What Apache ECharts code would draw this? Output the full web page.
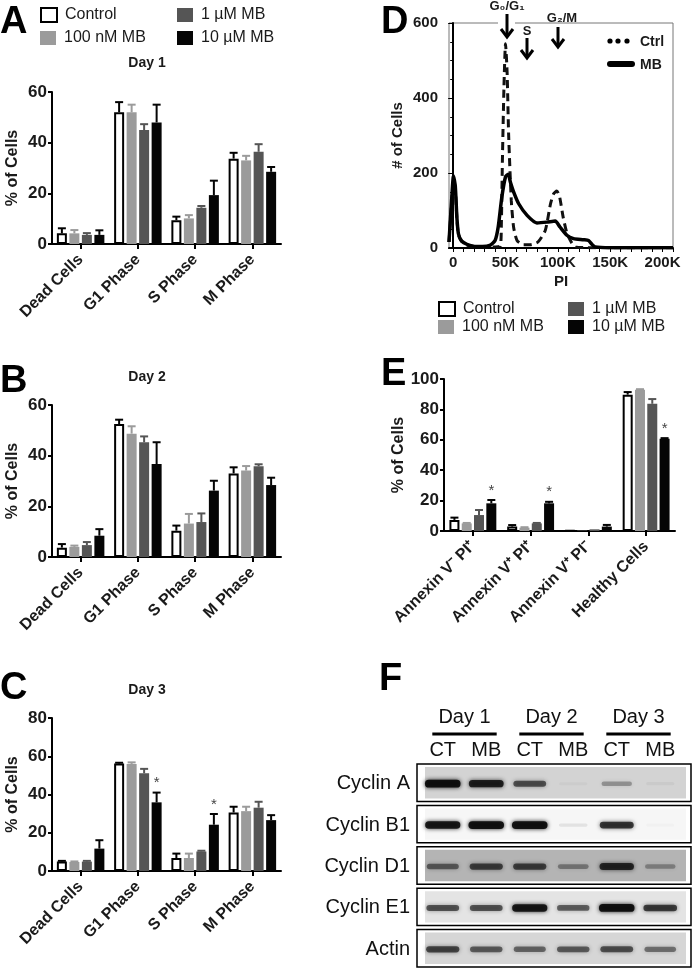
<!DOCTYPE html>
<html>
<head>
<meta charset="utf-8">
<script src="https://cdn.jsdelivr.net/npm/echarts@6.0.0/dist/echarts.min.js"></script>
<style>
html, body { margin: 0; padding: 0; background: #fff; }
#main { width: 693px; height: 971px; }
</style>
</head>
<body>
<div id="main"></div>
<script>
// ---- data ----
const phases = ['Dead Cells', 'G1 Phase', 'S Phase', 'M Phase']
const treatments = ['Control', '100 nM MB', '1 µM MB', '10 µM MB']

// rows = treatment, columns = phase
const day1Mean = [
    [4.2, 52.0, 9.4, 33.7],
    [4.2, 52.0, 10.1, 33.0],
    [3.6, 45.0, 14.3, 36.4],
    [3.6, 48.0, 19.3, 28.5]
]
const day1Err = [
    [2.0, 4.0, 1.4, 2.3],
    [1.3, 3.0, 1.3, 1.8],
    [0.7, 2.3, 0.7, 3.0],
    [1.8, 7.0, 5.7, 1.9]
]
const day2Mean = [
    [3.7, 52.5, 10.4, 33.0],
    [4.0, 48.7, 13.2, 34.1],
    [4.7, 45.3, 13.8, 35.8],
    [8.4, 36.7, 26.2, 28.4]
]
const day2Err = [
    [1.4, 1.7, 2.0, 2.4],
    [0.5, 2.9, 3.8, 1.8],
    [1.2, 2.3, 3.4, 0.8],
    [2.6, 8.6, 3.9, 2.9]
]
const day3Mean = [
    [5.0, 56.2, 6.8, 30.6],
    [4.7, 56.0, 6.8, 31.3],
    [4.9, 51.1, 10.2, 33.1],
    [11.7, 35.9, 24.2, 26.6]
]
const day3Err = [
    [0.3, 0.4, 2.3, 3.0],
    [0.3, 0.8, 2.3, 2.3],
    [0.4, 2.3, 0.4, 3.1],
    [4.4, 5.1, 5.6, 2.6]
]
const day3Stars = [[3, 1], [3, 2]]

const annexinCats = ['Annexin V⁻ PI⁺', 'Annexin V⁺ PI⁺', 'Annexin V⁺ PI⁻', 'Healthy Cells']
const annexinMean = [
    [7.3, 2.9, 0.2, 89.7],
    [5.0, 2.2, 0.2, 93.0],
    [10.5, 5.0, 1.1, 83.7],
    [18.2, 18.2, 2.9, 60.7]
]
const annexinErr = [
    [1.5, 1.0, 0, 1.7],
    [0.3, 0.3, 0, 0.3],
    [3.3, 0.3, 0, 3.1],
    [2.2, 1.0, 1.1, 0.4]
]
const annexinStars = [[3, 0], [3, 1], [3, 3]]

// flow cytometry histogram, PI in K
const ctrlPI = [-4, -1.5, 0.3, 2, 3.5, 5, 8, 13, 20, 30, 40, 45, 46, 47, 48.5, 50, 51.5, 53, 55.5, 57.7, 61, 67, 73.7, 81, 88, 93, 96, 99, 101.7, 105, 108.8, 113.6, 116.7, 125, 150, 210]
const ctrlCount = [16, 120, 180, 160, 80, 36, 18, 8, 4, 3, 3, 5, 60, 230, 430, 545, 470, 300, 127, 56, 20, 9, 9, 16, 47, 118, 145, 152, 136, 83, 38, 12, 3, 1, 1, 1]
const mbPI = [-4, -1.5, 0.3, 2, 3.5, 5, 8, 13, 19, 28, 35, 40, 43, 46.5, 50, 52.5, 54.6, 57.8, 62.6, 70.6, 80, 89.6, 97.5, 102, 108.6, 115, 124.5, 129.3, 132.5, 135.7, 150, 180, 210]
const mbCount = [16, 127, 192, 165, 83, 38, 19, 10, 5, 4, 7, 20, 56, 136, 190, 197, 176, 149, 118, 87, 67, 69, 72, 56, 34, 25, 22, 20, 10, 3, 1, 1, 1]
const piTicks = [0, 10, 20, 30, 40, 50, 60, 70, 80, 90, 100, 110, 120, 130, 140, 150, 160, 170, 180, 190, 200, 210]
const piLabels = [0, 50, 100, 150, 200]

// western blot band strength per lane (0..1)
const blotDays = ['Day 1', 'Day 2', 'Day 3']
const blotLanes = ['CT', 'MB', 'CT', 'MB', 'CT', 'MB']
const blotProteins = ['Cyclin A', 'Cyclin B1', 'Cyclin D1', 'Cyclin E1', 'Actin']
const cyclinA = [0.95, 0.85, 0.6, 0.03, 0.3, 0.04]
const cyclinB1 = [0.9, 0.95, 0.95, 0.08, 0.75, 0.02]
const cyclinD1 = [0.5, 0.65, 0.65, 0.35, 0.8, 0.3]
const cyclinE1 = [0.6, 0.6, 0.9, 0.55, 0.95, 0.7]
const actin = [0.65, 0.55, 0.5, 0.55, 0.6, 0.45]

// ---- styles ----
const FONT = '"Liberation Sans", Arial, Helvetica, sans-serif'
const INK = '#1a1a1a'
const barColors = ['#ffffff', '#9b9b9b', '#555555', '#050505']
const errColors = ['#000000', '#9b9b9b', '#555555', '#050505']
const blotShade = ['#d3d3d3', '#f6f6f6', '#b4b4b4', '#e4e4e4', '#d6d6d6']

function errorRender(pitch) {
    return function (params, api) {
        const cat = api.value(0)
        const mean = api.value(1)
        const err = api.value(2)
        const gi = api.value(3)
        const star = api.value(4)
        const p0 = api.coord([cat, mean])
        const p1 = api.coord([cat, mean + err])
        const x = p0[0] + (gi - 1.5) * pitch
        const children = []
        if (err > 0) {
            children.push({ type: 'line', shape: { x1: x, y1: p0[1], x2: x, y2: p1[1] }, style: { stroke: errColors[gi], lineWidth: 2 } })
            children.push({ type: 'line', shape: { x1: x - 4, y1: p1[1], x2: x + 4, y2: p1[1] }, style: { stroke: errColors[gi], lineWidth: 2 } })
        }
        if (star) {
            children.push({ type: 'text', x: x, y: p1[1] - 2, style: { text: '*', fill: '#444', font: '15px ' + FONT, align: 'center', verticalAlign: 'bottom' } })
        }
        return { type: 'group', children }
    }
}

function barSeries(idx, means, errs, stars, barW, pitch) {
    const list = treatments.map((name, gi) => ({
        type: 'bar',
        name,
        xAxisIndex: idx,
        yAxisIndex: idx,
        data: means[gi],
        barWidth: barW,
        barGap: ((pitch - barW) / barW * 100) + '%',
        silent: true,
        itemStyle: gi === 0 ? { color: '#fff', borderColor: '#000', borderWidth: 2 } : { color: barColors[gi] }
    }))
    const errData = []
    means.forEach((row, gi) => {
        row.forEach((v, ci) => {
            const star = stars.some(s => s[0] === gi && s[1] === ci) ? 1 : 0
            errData.push([ci, v, errs[gi][ci], gi, star])
        })
    })
    list.push({
        type: 'custom',
        xAxisIndex: idx,
        yAxisIndex: idx,
        z: 5,
        silent: true,
        encode: { x: 0, y: 1 },
        renderItem: errorRender(pitch),
        data: errData
    })
    return list
}

function catAxis(idx, data) {
    return {
        type: 'category', gridIndex: idx, data,
        axisLine: { show: true, lineStyle: { color: '#000', width: 2 } },
        axisTick: { show: true, alignWithLabel: true, length: 5, lineStyle: { color: '#000', width: 2 } },
        axisLabel: { rotate: 45, interval: 0, fontSize: 16, fontWeight: 'bold', color: INK, margin: 13, fontFamily: FONT },
        splitLine: { show: false }
    }
}

function pctAxis(idx, max, gap) {
    return {
        type: 'value', gridIndex: idx, min: 0, max, interval: 20,
        name: '% of Cells', nameLocation: 'middle', nameGap: gap,
        nameTextStyle: { fontSize: 16, fontWeight: 'bold', color: INK, fontFamily: FONT },
        axisLine: { show: true, lineStyle: { color: '#000', width: 2 } },
        axisTick: { show: true, length: 4, lineStyle: { color: '#000', width: 2 } },
        axisLabel: { fontSize: 17, fontWeight: 'bold', color: INK, margin: 5, fontFamily: FONT },
        splitLine: { show: false }
    }
}

function legendAt(name, left, top) {
    const gi = treatments.indexOf(name)
    return {
        data: [name], left, top, orient: 'horizontal', padding: 0,
        itemWidth: 16, itemHeight: 14, selectedMode: false, icon: 'rect',
        itemStyle: gi === 0 ? { color: '#fff', borderColor: '#000', borderWidth: 2 } : { color: barColors[gi], borderWidth: 0 },
        textStyle: { fontSize: 16, color: INK, fontFamily: FONT, padding: [0, 0, 0, 3] }
    }
}

function arrow(x, y1, y2) {
    return [
        { type: 'line', shape: { x1: x, y1: y1, x2: x, y2: y2 - 1 }, style: { stroke: '#000', lineWidth: 3 } },
        { type: 'polyline', shape: { points: [[x - 6, y2 - 8], [x, y2], [x + 6, y2 - 8]] }, style: { stroke: '#000', lineWidth: 3, fill: null } }
    ]
}

const bandData = []
;[cyclinA, cyclinB1, cyclinD1, cyclinE1, actin].forEach((row, r) => {
    row.forEach((v, l) => bandData.push([l, r, v]))
})

const letterStyle = { fontSize: 38, fontWeight: 'bold', color: '#000', fontFamily: FONT }
const dayStyle = { fontSize: 14, fontWeight: 'bold', color: INK, fontFamily: FONT }

const option = {
    animation: false,
    backgroundColor: '#fff',
    textStyle: { fontFamily: FONT },
    title: [
        { text: 'A', left: 0, top: 4, padding: 0, textStyle: letterStyle },
        { text: 'B', left: 0, top: 363, padding: 0, textStyle: letterStyle },
        { text: 'C', left: 0, top: 670, padding: 0, textStyle: letterStyle },
        { text: 'D', left: 381, top: 4, padding: 0, textStyle: letterStyle },
        { text: 'E', left: 381, top: 356, padding: 0, textStyle: letterStyle },
        { text: 'F', left: 379, top: 661, padding: 0, textStyle: letterStyle },
        { text: 'Day 1', left: 147, top: 56, textAlign: 'center', padding: 0, textStyle: dayStyle },
        { text: 'Day 2', left: 147, top: 370, textAlign: 'center', padding: 0, textStyle: dayStyle },
        { text: 'Day 3', left: 147, top: 683, textAlign: 'center', padding: 0, textStyle: dayStyle }
    ],
    legend: [
        legendAt('Control', 40, 7),
        legendAt('100 nM MB', 40, 30),
        legendAt('1 µM MB', 177, 7),
        legendAt('10 µM MB', 177, 30),
        legendAt('Control', 438, 301),
        legendAt('100 nM MB', 438, 319),
        legendAt('1 µM MB', 568, 301),
        legendAt('10 µM MB', 568, 319)
    ],
    grid: [
        { left: 52, top: 92, width: 229, height: 152, outerBoundsMode: 'none' },
        { left: 52, top: 405, width: 229, height: 152, outerBoundsMode: 'none' },
        { left: 52, top: 718, width: 229, height: 153, outerBoundsMode: 'none' },
        { left: 449, top: 23, width: 224, height: 225, show: true, borderColor: '#777', borderWidth: 1, backgroundColor: 'transparent', outerBoundsMode: 'none' },
        { left: 444, top: 379, width: 231, height: 152, outerBoundsMode: 'none' },
        { left: 421, top: 763, width: 261, height: 207, outerBoundsMode: 'none' }
    ],
    xAxis: [
        catAxis(0, phases),
        catAxis(1, phases),
        catAxis(2, phases),
        {
            type: 'value', gridIndex: 3, min: -4, max: 210,
            name: 'PI', nameLocation: 'middle', nameGap: 26,
            nameTextStyle: { fontSize: 15, fontWeight: 'bold', color: INK, fontFamily: FONT },
            axisLine: { show: true, lineStyle: { color: '#000', width: 2 } },
            axisTick: { show: true, customValues: piTicks, length: 4, lineStyle: { color: '#000', width: 1 } },
            axisLabel: {
                customValues: piLabels, fontSize: 15, fontWeight: 'bold', color: INK, margin: 7, fontFamily: FONT,
                formatter: v => (v === 0 ? '0' : v + 'K')
            },
            splitLine: { show: false }
        },
        catAxis(4, annexinCats),
        {
            type: 'category', gridIndex: 5, position: 'top', data: blotLanes,
            axisLine: { show: false }, axisTick: { show: false },
            axisLabel: { fontSize: 20, color: '#111', margin: 3, fontFamily: FONT }
        },
        {
            type: 'category', gridIndex: 5, position: 'top', offset: 29, data: blotDays,
            axisLine: { show: false }, axisTick: { show: false },
            axisLabel: { fontSize: 20, color: '#111', margin: 7, fontFamily: FONT }
        }
    ],
    yAxis: [
        pctAxis(0, 60, 31),
        pctAxis(1, 60, 31),
        pctAxis(2, 80, 31),
        {
            type: 'value', gridIndex: 3, min: 0, max: 600, interval: 200,
            name: '# of Cells', nameLocation: 'middle', nameGap: 44,
            nameTextStyle: { fontSize: 15, fontWeight: 'bold', color: INK, fontFamily: FONT },
            axisLine: { show: true, lineStyle: { color: '#000', width: 2 } },
            axisTick: { show: true, length: 5, lineStyle: { color: '#000', width: 1 } },
            minorTick: { show: true, splitNumber: 4, length: 3, lineStyle: { color: '#000', width: 1 } },
            axisLabel: { fontSize: 15, fontWeight: 'bold', color: INK, margin: 11, fontFamily: FONT },
            splitLine: { show: false }
        },
        pctAxis(4, 100, 36),
        {
            type: 'category', gridIndex: 5, inverse: true, data: blotProteins,
            axisLine: { show: false }, axisTick: { show: false },
            axisLabel: { fontSize: 20, color: '#111', margin: 11, fontFamily: FONT }
        }
    ],
    series: [
        ...barSeries(0, day1Mean, day1Err, [], 10, 12.5),
        ...barSeries(1, day2Mean, day2Err, [], 10, 12.5),
        ...barSeries(2, day3Mean, day3Err, day3Stars, 10, 12.5),
        ...barSeries(4, annexinMean, annexinErr, annexinStars, 10, 12.3),
        {
            type: 'line', name: 'Ctrl', xAxisIndex: 3, yAxisIndex: 3,
            data: ctrlPI.map((x, i) => [x, ctrlCount[i]]),
            showSymbol: false, smooth: 0.2, silent: true,
            lineStyle: { color: '#111', width: 3, type: [8, 5] }
        },
        {
            type: 'line', name: 'MB', xAxisIndex: 3, yAxisIndex: 3,
            data: mbPI.map((x, i) => [x, mbCount[i]]),
            showSymbol: false, smooth: 0.2, silent: true,
            lineStyle: { color: '#000', width: 3.5 }
        },
        {
            // blot frames
            type: 'custom', xAxisIndex: 5, yAxisIndex: 5, z: 1, silent: true,
            encode: { x: 0, y: 1 },
            data: blotProteins.map((p, r) => [0, r]),
            renderItem: function (params, api) {
                const r = api.value(1)
                const cs = params.coordSys
                const c = api.coord([0, r])
                const h = api.size([0, 1])[1]
                const top = c[1] - h / 2 + 1
                const height = h - 4
                const left = cs.x - 4
                const width = cs.width + 13
                return {
                    type: 'group',
                    children: [
                        { type: 'rect', shape: { x: left, y: top, width, height }, style: { fill: '#fff', stroke: '#000', lineWidth: 1.5 } },
                        { type: 'rect', shape: { x: left + 8, y: top + 3, width: width - 13, height: height - 6 }, style: { fill: blotShade[r] } }
                    ]
                }
            }
        },
        {
            // blot bands
            type: 'custom', xAxisIndex: 5, yAxisIndex: 5, z: 3, silent: true,
            encode: { x: 0, y: 1 },
            data: bandData,
            renderItem: function (params, api) {
                const v = api.value(2)
                const c = api.coord([api.value(0), api.value(1)])
                const w = 28 + 8 * v
                const h = 3 + 5 * v
                const col = 'rgba(12,12,12,' + Math.min(1, v * 1.0) + ')'
                return {
                    type: 'rect',
                    shape: { x: c[0] - w / 2, y: c[1] - h / 2, width: w, height: h, r: h / 2 },
                    style: { fill: col, shadowBlur: 4, shadowColor: col }
                }
            }
        },
        {
            // day underlines
            type: 'custom', xAxisIndex: 6, yAxisIndex: 5, z: 3, silent: true,
            encode: { x: 0, y: 1 },
            data: blotDays.map((d, i) => [i, 0]),
            renderItem: function (params, api) {
                const c = api.coord([api.value(0), 0])
                const half = api.size([1, 0])[0] * 0.37
                const y = params.coordSys.y - 29
                return { type: 'line', shape: { x1: c[0] - half, y1: y, x2: c[0] + half, y2: y }, style: { stroke: '#000', lineWidth: 3 } }
            }
        }
    ],
    graphic: [
        { type: 'rect', shape: { x: 498, y: 19, width: 17, height: 8 }, style: { fill: '#fff' }, z: 10 },
        ...arrow(507, 14, 37).map(e => Object.assign(e, { z: 11 })),
        ...arrow(527, 38, 58).map(e => Object.assign(e, { z: 11 })),
        ...arrow(558, 27, 47).map(e => Object.assign(e, { z: 11 })),
        { type: 'text', x: 507, y: 6, z: 11, style: { text: 'G₀/G₁', font: 'bold 13px ' + FONT, fill: INK, align: 'center', verticalAlign: 'middle' } },
        { type: 'text', x: 527, y: 31, z: 11, style: { text: 'S', font: 'bold 13px ' + FONT, fill: INK, align: 'center', verticalAlign: 'middle' } },
        { type: 'text', x: 562, y: 18, z: 11, style: { text: 'G₂/M', font: 'bold 13px ' + FONT, fill: INK, align: 'center', verticalAlign: 'middle' } },
        { type: 'circle', shape: { cx: 610, cy: 41, r: 2.6 }, style: { fill: '#000' }, z: 11 },
        { type: 'circle', shape: { cx: 618, cy: 41, r: 2.6 }, style: { fill: '#000' }, z: 11 },
        { type: 'circle', shape: { cx: 627, cy: 41, r: 2.6 }, style: { fill: '#000' }, z: 11 },
        { type: 'line', shape: { x1: 610, y1: 64, x2: 632, y2: 64 }, style: { stroke: '#000', lineWidth: 6, lineCap: 'round' }, z: 11 },
        { type: 'text', x: 640, y: 42, z: 11, style: { text: 'Ctrl', font: 'bold 14px ' + FONT, fill: INK, align: 'left', verticalAlign: 'middle' } },
        { type: 'text', x: 640, y: 65, z: 11, style: { text: 'MB', font: 'bold 14px ' + FONT, fill: INK, align: 'left', verticalAlign: 'middle' } }
    ]
}

document.addEventListener('DOMContentLoaded', function () {
    const chart = echarts.init(document.getElementById('main'), null, { renderer: 'canvas' })
    chart.setOption(option)
})
</script>
</body>
</html>
